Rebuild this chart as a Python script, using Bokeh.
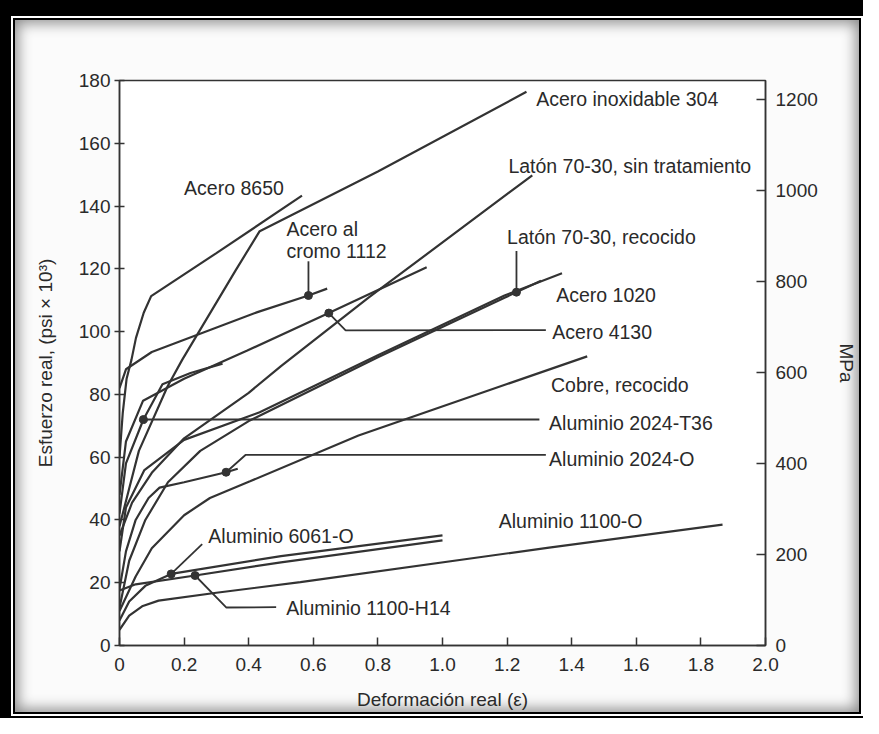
import numpy as np
from bokeh.plotting import figure
from bokeh.models import Range1d, LinearAxis, FixedTicker
from bokeh.layouts import column
from bokeh.core.properties import value
from bokeh.embed import file_html
from bokeh.resources import INLINE

# ---------------- data (true strain, true stress in ksi) ----------------
x_ticks = [0, 0.2, 0.4, 0.6, 0.8, 1.0, 1.2, 1.4, 1.6, 1.8, 2.0]
y_ticks = [0, 20, 40, 60, 80, 100, 120, 140, 160, 180]
mpa_ticks = [0, 200, 400, 600, 800, 1000, 1200]
KSI_TO_MPA = 6.895

acero_304_x = [0, 0.03, 0.06, 0.149, 0.194, 0.36, 0.434, 0.8, 1.26]
acero_304_y = [38, 50, 62, 82.6, 91, 119.6, 132, 151, 176.4]

acero_8650_x = [0, 0.01, 0.022, 0.037, 0.051, 0.075, 0.098, 0.3, 0.565]
acero_8650_y = [60, 74, 85, 91, 98, 106, 111.3, 125, 143.3]

laton_st_x = [0, 0.039, 0.1, 0.2, 0.4, 0.5, 0.771, 1.278]
laton_st_y = [35, 45.5, 55, 66, 80.5, 89, 110.8, 149.8]

cromo_1112_x = [0, 0.02, 0.1, 0.427, 0.585, 0.643]
cromo_1112_y = [82, 88, 93.5, 106.2, 111.5, 113.7]

acero_4130_x = [0, 0.02, 0.073, 0.2, 0.394, 0.648, 0.951]
acero_4130_y = [48, 65, 78, 85, 93.9, 105.9, 120.5]

al_2024_t36_x = [0, 0.02, 0.074, 0.133, 0.22, 0.319]
al_2024_t36_y = [42, 58, 72, 83.2, 86.8, 89.8]

acero_1020_x = [0, 0.02, 0.077, 0.2, 0.434, 0.8, 1.192, 1.37]
acero_1020_y = [30, 44, 55.9, 65.5, 74.3, 92.5, 111.5, 118.6]

laton_rec_x = [0, 0.03, 0.08, 0.15, 0.25, 0.4, 0.8, 1.192, 1.305]
laton_rec_y = [12, 27, 40, 52, 62, 71.5, 91.8, 110.8, 116.2]

cobre_x = [0, 0.05, 0.1, 0.2, 0.28, 0.404, 0.74, 1.2, 1.448]
cobre_y = [11, 22, 31, 41.5, 47, 52.3, 66.9, 83.3, 92.1]

al_2024_o_x = [0, 0.02, 0.05, 0.09, 0.124, 0.2, 0.33, 0.366]
al_2024_o_y = [18, 30, 40, 47, 50.3, 52, 55.2, 56.3]

al_6061_o_x = [0, 0.03, 0.08, 0.16, 0.5, 1.0]
al_6061_o_y = [8, 14, 19, 22.8, 28.5, 35.1]

al_1100_h14_x = [0, 0.05, 0.234, 0.5, 1.0]
al_1100_h14_y = [17.5, 19.5, 22.3, 26.5, 33.5]

al_1100_o_x = [0, 0.03, 0.07, 0.121, 0.3, 0.56, 1.33, 1.867]
al_1100_o_y = [5, 9.5, 12.5, 14.3, 16.8, 20.2, 31.2, 38.5]

curves = [
    (acero_304_x, acero_304_y), (acero_8650_x, acero_8650_y),
    (laton_st_x, laton_st_y), (cromo_1112_x, cromo_1112_y),
    (acero_4130_x, acero_4130_y), (al_2024_t36_x, al_2024_t36_y),
    (acero_1020_x, acero_1020_y), (laton_rec_x, laton_rec_y),
    (cobre_x, cobre_y), (al_2024_o_x, al_2024_o_y),
    (al_6061_o_x, al_6061_o_y), (al_1100_h14_x, al_1100_h14_y),
    (al_1100_o_x, al_1100_o_y),
]

# markers (strain values on their curves)
marker_specs = [
    (0.585, cromo_1112_x, cromo_1112_y),
    (1.229, laton_rec_x, laton_rec_y),
    (0.648, acero_4130_x, acero_4130_y),
    (0.074, al_2024_t36_x, al_2024_t36_y),
    (0.33, al_2024_o_x, al_2024_o_y),
    (0.16, al_6061_o_x, al_6061_o_y),
    (0.234, al_1100_h14_x, al_1100_h14_y),
]

# leader lines (points after each marker)
leader_1112_x = [0.585]
leader_1112_y = [122.4]
leader_rec_x = [1.229]
leader_rec_y = [125.7]
leader_4130_x = [0.70, 1.32]
leader_4130_y = [100.4, 100.5]
leader_t36_x = [1.30]
leader_t36_y = [72.0]
leader_2024o_x = [0.39, 1.32]
leader_2024o_y = [60.7, 60.7]
leader_6061_x = [0.256]
leader_6061_y = [32.3]
leader_h14_x = [0.331, 0.485]
leader_h14_y = [12.1, 12.2]
leaders = [(leader_1112_x, leader_1112_y), (leader_rec_x, leader_rec_y),
           (leader_4130_x, leader_4130_y), (leader_t36_x, leader_t36_y),
           (leader_2024o_x, leader_2024o_y), (leader_6061_x, leader_6061_y),
           (leader_h14_x, leader_h14_y)]

label_text = ["Acero inoxidable 304", "Latón 70-30, sin tratamiento",
              "Latón 70-30, recocido", "Acero 1020", "Acero 4130",
              "Cobre, recocido", "Aluminio 2024-T36", "Aluminio 2024-O",
              "Aluminio 1100-O", "Aluminio 6061-O", "Aluminio 1100-H14",
              "Acero 8650", "Acero al", "cromo 1112"]
label_x = [1.29, 1.204, 1.20, 1.352, 1.34, 1.336, 1.33, 1.33,
           1.174, 0.275, 0.516, 0.20, 0.517, 0.517]
label_y = [174, 152.8, 130, 111.7, 100, 82.9, 70.8, 59.5,
           39.6, 34.9, 12.1, 145.6, 132.7, 125.8]

# ---------------- figure ----------------
INK = "#333333"
TXT = "#2a2a2a"
FONT = "Liberation Sans"

p = figure(width=844, height=692, output_backend="svg", toolbar_location=None,
           x_range=Range1d(0, 2.0), y_range=Range1d(0, 180),
           min_border_left=104, min_border_right=87, min_border_top=60,
           min_border_bottom=60)
p.extra_y_ranges = {"mpa": Range1d(0, 180 * KSI_TO_MPA)}
p.xgrid.visible = False
p.ygrid.visible = False
p.outline_line_color = INK
p.outline_line_width = 1.5
p.background_fill_color = "white"
p.border_fill_color = "white"
p.border_fill_alpha = 0.0
p.styles = {"background-color": "#fbfbfb",
            "box-shadow": "inset 0 0 14px 3px rgba(0,0,0,0.45)",
            "outline": "2px solid white", "outline-offset": "2px"}


def style_axis(ax, tin, tout):
    ax.axis_line_color = INK
    ax.axis_line_width = 1.5
    ax.major_tick_line_color = INK
    ax.major_tick_line_width = 1.5
    ax.major_tick_in = tin
    ax.major_tick_out = tout
    ax.minor_tick_line_color = None
    ax.major_label_text_font = FONT
    ax.major_label_text_font_size = "19px"
    ax.major_label_text_color = TXT
    ax.axis_label_text_font = FONT
    ax.axis_label_text_font_size = "19px"
    ax.axis_label_text_font_style = "normal"
    ax.axis_label_text_color = TXT


xa = p.xaxis[0]
xa.ticker = FixedTicker(ticks=x_ticks)
xa.major_label_overrides = {0: "0", 1: "1.0", 2: "2.0"}
xa.axis_label = "Deformación real (ε)"
style_axis(xa, 8, 0)
xa.major_label_standoff = 12
xa.axis_label_standoff = 15

ya = p.yaxis[0]
ya.ticker = FixedTicker(ticks=y_ticks)
ya.axis_label = "Esfuerzo real, (psi × 10³)"
style_axis(ya, 5, 5)
ya.major_label_standoff = 4
ya.axis_label_standoff = 20

ra = LinearAxis(y_range_name="mpa", axis_label="MPa")
ra.ticker = FixedTicker(ticks=mpa_ticks)
style_axis(ra, 9, 0)
ra.major_label_standoff = 10
ra.axis_label_standoff = 15
p.add_layout(ra, "right")

for cx, cy in curves:
    p.line(cx, cy, line_color=INK, line_width=2.2)

mx, my = [], []
for xv, cx, cy in marker_specs:
    mx.append(xv)
    my.append(float(np.interp(xv, cx, cy)))

for (lx, ly), x0, y0 in zip(leaders, mx, my):
    p.line([x0] + lx, [y0] + ly, line_color=INK, line_width=1.8)

p.scatter(mx, my, size=8, color=INK)

p.text(label_x, label_y, text=label_text, text_align="left", text_baseline="middle",
       text_font=value(FONT), text_font_size="19.5px", text_color=TXT)

layout = column(p, styles={"background-color": "black",
                           "padding": "20px 4px 6px 15px"})

open("out.html", "w").write(file_html(layout, INLINE))
